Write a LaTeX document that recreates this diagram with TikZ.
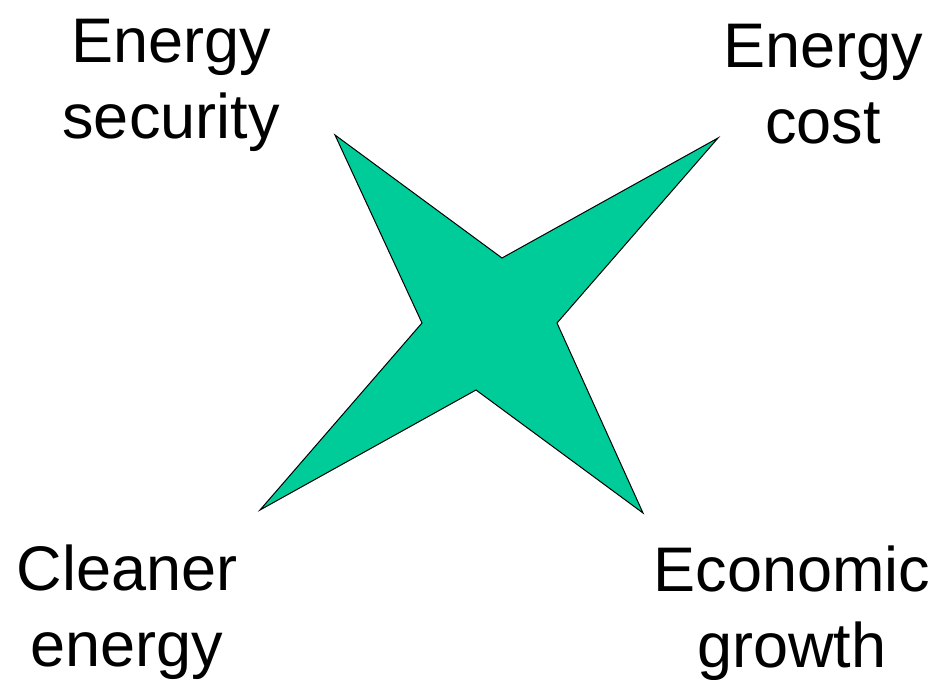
\documentclass[tikz,border=0pt]{standalone}
\usepackage{fontspec}
\setmainfont{Liberation Sans}
\definecolor{stargreen}{RGB}{0,204,153}
\tikzset{
  lbl/.style={font=\fontsize{63}{76}\selectfont, align=center, inner sep=0pt, anchor=base},
  starshape/.style={fill=stargreen, draw=black, line width=1pt, line join=miter}
}
\begin{document}
\begin{tikzpicture}[x=1pt,y=-1pt]
\useasboundingbox (0,0) rectangle (940,680);
\coordinate (tl) at (335,135);
\coordinate (it) at (502,258);
\coordinate (tr) at (718,138);
\coordinate (ir) at (557,323);
\coordinate (br) at (643,513);
\coordinate (ib) at (476,390);
\coordinate (bl) at (260,510);
\coordinate (il) at (422,323);
\draw[starshape] (tl) -- (it) -- (tr) -- (ir) -- (br) -- (ib) -- (bl) -- (il) -- cycle;
\node[lbl] (sec) at (171,138) {Energy\\security};
\node[lbl] (cost) at (823,143) {Energy\\cost};
\node[lbl] (clean) at (127,666) {Cleaner\\energy};
\node[lbl] (econ) at (792,667) {Economic\\growth};
\end{tikzpicture}
\end{document}
